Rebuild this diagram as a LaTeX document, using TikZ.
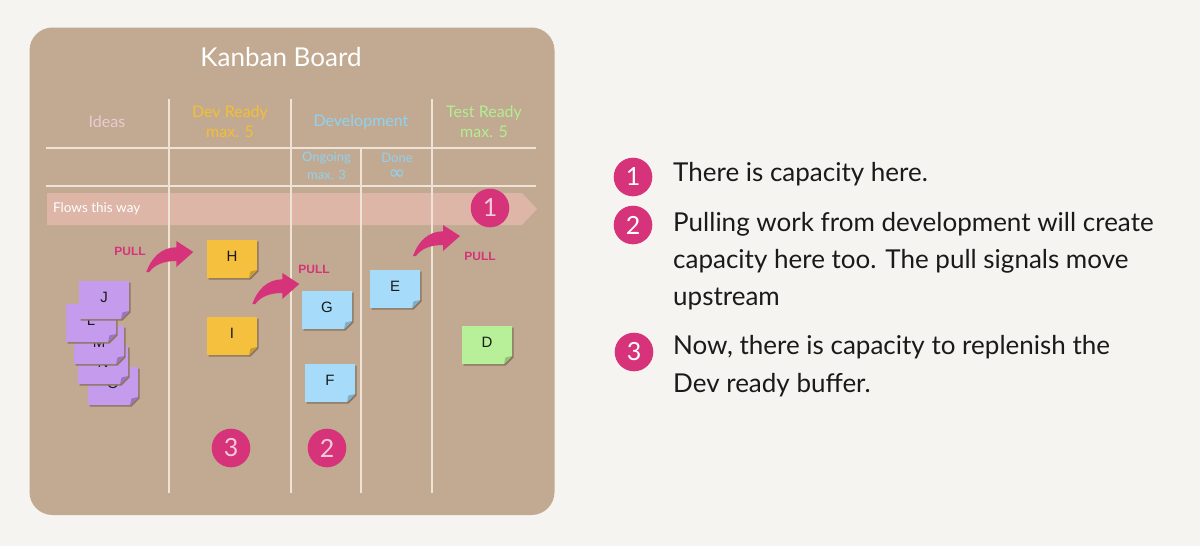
\documentclass[tikz,border=0pt]{standalone}
\usepackage{fontspec}
\setmainfont{Lato}
\newfontfamily\notefont{Liberation Sans}
\newfontfamily\symfont{DejaVu Sans}
\definecolor{bgc}{HTML}{F5F4F0}
\definecolor{boardc}{HTML}{C1AA91}
\definecolor{linec}{HTML}{EEE3D6}
\definecolor{flowc}{HTML}{DDB6A7}
\definecolor{pinkc}{HTML}{D6337A}
\definecolor{numc}{HTML}{F2CAD8}
\definecolor{ideasc}{HTML}{EBCBD3}
\definecolor{devrc}{HTML}{F5BF33}
\definecolor{devc}{HTML}{8FD2F2}
\definecolor{testc}{HTML}{B3EE92}
\definecolor{yelc}{HTML}{F6C03F}
\definecolor{yeld}{HTML}{C99A2A}
\definecolor{bluc}{HTML}{A7DBFA}
\definecolor{blud}{HTML}{7FAFCB}
\definecolor{grnc}{HTML}{B8F09A}
\definecolor{grnd}{HTML}{8FC277}
\definecolor{purc}{HTML}{C59BEE}
\definecolor{purd}{HTML}{9A74C0}
\definecolor{shadc}{HTML}{8C7762}
\definecolor{textc}{HTML}{1A1A1A}
\tikzset{
  hdr/.style={font=\fontsize{16}{16}\selectfont, inner sep=0pt},
  subhdr/.style={font=\fontsize{13}{13}\selectfont, inner sep=0pt, text=devc},
  notetext/.style={font=\notefont\fontsize{15}{15}\selectfont, text=textc, inner sep=0pt},
  pulltext/.style={font=\notefont\bfseries\fontsize{12}{12}\selectfont, text=pinkc, inner sep=0pt},
  numcirc/.style={circle, fill=pinkc, minimum size=38.6pt, inner sep=0pt, font=\fontsize{25}{25}\selectfont},
  desc/.style={font=\fontsize{26}{26}\selectfont, text=textc, inner sep=0pt, anchor=base west},
  gridline/.style={draw=linec, line width=1.2pt},
  pullarrow/.style={fill=pinkc}
}
\newcommand\stickynote[6]{%
  \fill[shadc] (#2+1.5,#3+1.5) -- ++(50,0) -- ++(0,30) -- ++(-8,8) -- ++(-42,0) -- cycle;
  \fill[#4] (#2,#3) -- ++(50,0) -- ++(0,30) -- ++(-8,8) -- ++(-42,0) -- cycle;
  \fill[#5] (#2+50,#3+30) -- (#2+42,#3+38) -- (#2+43.5,#3+31.5) -- cycle;
  \node[notetext] (#1) at (#2+25,#3+16.5) {#6};
}
\newcommand\pullshape[2]{%
  \begin{scope}[shift={(#1,#2)}]
    \fill[pullarrow] (-47,20) .. controls (-42,6) and (-32,-4.7) .. (-17,-4.7)
      -- (-17,-11) -- (0,0) -- (-17,15) -- (-17,9)
      .. controls (-30,9) and (-39,13) .. (-44,20) -- cycle;
  \end{scope}
}
\begin{document}
\begin{tikzpicture}[x=1pt,y=-1pt]
\fill[bgc] (0,0) rectangle (1200,546);
\useasboundingbox (0,0) rectangle (1200,546);
% board
\fill[boardc, rounded corners=23pt] (29.5,27.5) rectangle (554.5,515);
\node[font=\fontsize{26}{26}\selectfont, text=white, inner sep=0pt] (title) at (281,57) {Kanban Board};
% flow band
\fill[flowc] (47,193) -- (522,193) -- (537,209) -- (522,225) -- (47,225) -- cycle;
\node[font=\fontsize{13.5}{13.5}\selectfont, text=white, anchor=west, inner sep=0pt] (flow) at (53,208.5) {Flows this way};
% grid lines
\draw[gridline] (46,148) -- (536,148);
\draw[gridline] (46,186) -- (536,186);
\draw[gridline] (169,99) -- (169,493);
\draw[gridline] (291,99) -- (291,493);
\draw[gridline] (361,148) -- (361,493);
\draw[gridline] (432,99) -- (432,493);
% headers
\node[hdr, text=ideasc] (hideas) at (107,122) {Ideas};
\node[hdr, text=devrc] (hdevr1) at (230,113) {Dev Ready};
\node[hdr, text=devrc] (hdevr2) at (230,132) {max. 5};
\node[hdr, text=devc] (hdev) at (361,122) {Development};
\node[hdr, text=testc] (htest1) at (484,113) {Test Ready};
\node[hdr, text=testc] (htest2) at (484,132) {max. 5};
\node[subhdr] (hong1) at (326.5,158) {Ongoing};
\node[subhdr] (hong2) at (326.5,175) {max. 3};
\node[subhdr] (hdone1) at (397,158) {Done};
\node[subhdr, font=\symfont\fontsize{20}{20}\selectfont] (hdone2) at (397,175) {∞};
% circle 1
\node[numcirc, text=numc] (c1) at (490,208) {1};
% pull arrows
\pullshape{193.3}{252}
\pullshape{299.3}{284}
\pullshape{460}{236}
\node[pulltext] (pull1) at (130,251) {PULL};
\node[pulltext] (pull2) at (314,269) {PULL};
\node[pulltext] (pull3) at (480,256) {PULL};
% sticky notes
\stickynote{O}{88}{367}{purc}{purd}{O}
\stickynote{N}{78}{346}{purc}{purd}{N}
\stickynote{M}{74}{326}{purc}{purd}{M}
\stickynote{L}{66}{304}{purc}{purd}{L}
\stickynote{J}{79}{281}{purc}{purd}{J}
\stickynote{H}{207}{240}{yelc}{yeld}{H}
\stickynote{I}{207}{317}{yelc}{yeld}{I}
\stickynote{G}{302}{291}{bluc}{blud}{G}
\stickynote{F}{305}{364}{bluc}{blud}{F}
\stickynote{E}{370}{270}{bluc}{blud}{E}
\stickynote{D}{462}{326}{grnc}{grnd}{D}
% circles 2 and 3 on board
\node[numcirc, text=numc] (c2) at (327,448) {2};
\node[numcirc, text=numc] (c3) at (231,448) {3};
% legend
\node[numcirc, text=white] (k1) at (633,177) {1};
\node[numcirc, text=white] (k2) at (633,225) {2};
\node[numcirc, text=white] (k3) at (634,352) {3};
\node[desc] (t1) at (673,181) {There is capacity here.};
\node[desc] (t2a) at (673,231) {Pulling work from development will create};
\node[desc] (t2b) at (673,268.5) {capacity here too. The pull signals move};
\node[desc] (t2c) at (673,305) {upstream};
\node[desc] (t3a) at (673,354.5) {Now, there is capacity to replenish the};
\node[desc] (t3b) at (673,392) {Dev ready buffer.};
\end{tikzpicture}
\end{document}
